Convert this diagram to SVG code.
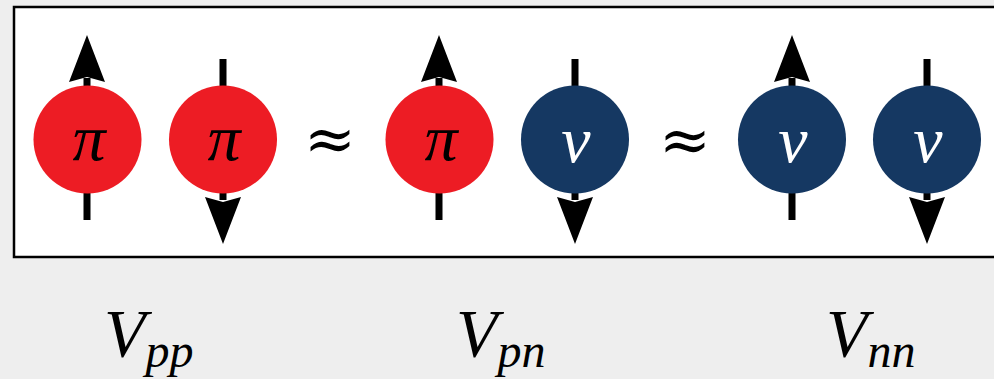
<svg xmlns="http://www.w3.org/2000/svg" width="994" height="379" viewBox="0 0 994 379">
<style>
.bg{fill:#eeeeee}
.frame{fill:#ffffff;stroke:#000000;stroke-width:2.5}
.p{fill:#ED1C24}
.n{fill:#153862}
.shaft{stroke:#000000;stroke-width:7;fill:none}
.head{fill:#000000}
.sym{font-family:"Liberation Serif","DejaVu Serif",serif;font-style:italic;font-size:66px;text-anchor:middle}
.pk{fill:#000000}
.wt{fill:#ffffff}
.approx{font-family:"DejaVu Serif","Liberation Serif",serif;font-size:62px;text-anchor:middle;fill:#000000}
.lab{font-family:"Liberation Serif","DejaVu Serif",serif;font-style:italic;fill:#000000}
</style>
<defs>
<path id="up" d="M0,35 L18,82 L0,77 L-18,82 Z"/>
<path id="down" d="M0,244 L18,197 L0,202 L-18,197 Z"/>
</defs>
<rect class="bg" x="0" y="0" width="994" height="379"/>
<rect class="frame" x="14" y="7" width="1010" height="250"/>
<g id="node-pi-up">
<line class="shaft" x1="87" y1="78" x2="87" y2="220"/>
<use href="#up" class="head" x="87"/>
<circle class="p" cx="87.5" cy="139.5" r="54"/>
<text class="sym pk" x="89" y="160">π</text>
</g>
<g id="node-pi-down">
<line class="shaft" x1="223" y1="59" x2="223" y2="200"/>
<use href="#down" class="head" x="223"/>
<circle class="p" cx="223" cy="139.5" r="54"/>
<text class="sym pk" x="224" y="160">π</text>
</g>
<g id="approx-1"><text class="approx" x="330" y="160">≈</text></g>
<g id="node-pi-up-2">
<line class="shaft" x1="439" y1="78" x2="439" y2="220"/>
<use href="#up" class="head" x="439"/>
<circle class="p" cx="439.5" cy="139.5" r="54"/>
<text class="sym pk" x="441" y="160">π</text>
</g>
<g id="node-nu-down">
<line class="shaft" x1="575" y1="59" x2="575" y2="200"/>
<use href="#down" class="head" x="575"/>
<circle class="n" cx="575" cy="139.5" r="54"/>
<text class="sym wt" x="576" y="162">ν</text>
</g>
<g id="approx-2"><text class="approx" x="685" y="161">≈</text></g>
<g id="node-nu-up">
<line class="shaft" x1="792" y1="78" x2="792" y2="220"/>
<use href="#up" class="head" x="792"/>
<circle class="n" cx="792" cy="139.5" r="54"/>
<text class="sym wt" x="793" y="162">ν</text>
</g>
<g id="node-nu-down-2">
<line class="shaft" x1="927" y1="59" x2="927" y2="200"/>
<use href="#down" class="head" x="927"/>
<circle class="n" cx="927" cy="139.5" r="54"/>
<text class="sym wt" x="928" y="162">ν</text>
</g>
<g id="label-vpp"><text class="lab" x="104" y="356" font-size="68">V<tspan font-size="48" dy="11">pp</tspan></text></g>
<g id="label-vpn"><text class="lab" x="456" y="356" font-size="68">V<tspan font-size="48" dy="11">pn</tspan></text></g>
<g id="label-vnn"><text class="lab" x="826" y="356" font-size="68">V<tspan font-size="48" dy="11">nn</tspan></text></g>
</svg>
